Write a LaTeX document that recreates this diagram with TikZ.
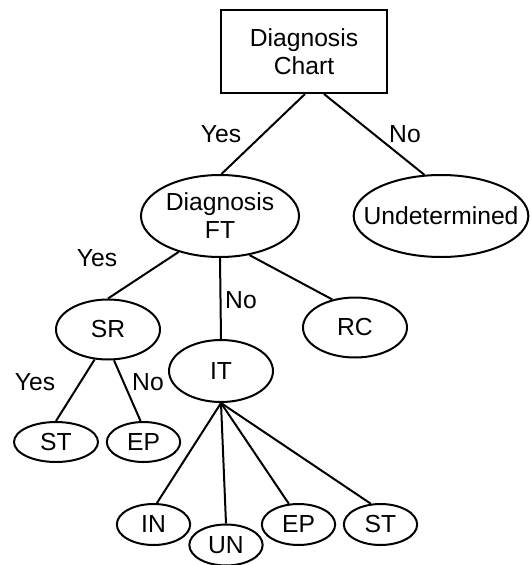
\documentclass[tikz,border=0pt]{standalone}
\usepackage{fontspec}
\setmainfont{Liberation Sans}
\usetikzlibrary{shapes.geometric}
\begin{document}
\begin{tikzpicture}[x=0.75pt,y=-0.75pt,
  every node/.style={font=\fontsize{18.5pt}{21pt}\selectfont},
  ell/.style={draw,ellipse,line width=1.5pt,inner sep=0pt,align=center},
  conn/.style={line width=1.5pt},
  lbl/.style={inner sep=0pt}]
\useasboundingbox (0,0) rectangle (532,565);
\node[draw,line width=1.5pt,minimum width=124.5pt,minimum height=62.25pt,align=center,inner sep=0pt] (chart) at (304,51.5) {Diagnosis\\Chart};
\node[ell,minimum width=118.5pt,minimum height=61.5pt] (ft) at (220,216) {Diagnosis\\FT};
\node[ell,minimum width=131pt,minimum height=61.5pt,inner xsep=-12pt] (und) at (441,216) {Undetermined};
\node[ell,minimum width=78pt,minimum height=45pt] (sr) at (108,329.5) {SR};
\node[ell,minimum width=78pt,minimum height=46.5pt] (it) at (221,371) {IT};
\node[ell,minimum width=78pt,minimum height=45pt] (rc) at (355,327.5) {RC};
\node[ell,minimum width=63pt,minimum height=30pt] (st1) at (56,442) {ST};
\node[ell,minimum width=55pt,minimum height=30pt] (ep1) at (143.5,442) {EP};
\node[ell,minimum width=55pt,minimum height=30.75pt] (in) at (153.5,524.5) {IN};
\node[ell,minimum width=55pt,minimum height=30.75pt] (un) at (226,545) {UN};
\node[ell,minimum width=55pt,minimum height=30.75pt] (ep2) at (298.5,524.5) {EP};
\node[ell,minimum width=55pt,minimum height=30.75pt] (st2) at (380.5,524.5) {ST};
\draw[conn] ([xshift=0.75pt]chart.south) -- (ft.88);
\draw[conn] ([xshift=15pt]chart.south) -- (und.112);
\draw[conn] (ft.221) -- (sr.north);
\draw[conn] (ft.south) -- (it.north);
\draw[conn] (ft.-53) -- (rc.129);
\draw[conn] (sr.246) -- (st1.north);
\draw[conn] (sr.281) -- (ep1.98);
\draw[conn] (it.south) -- (in.81);
\draw[conn] (it.south) -- (un.north);
\draw[conn] (it.south) -- (ep2.115);
\draw[conn] (it.south) -- (st2.115);
\node[lbl] (l1) at (221,134) {Yes};
\node[lbl] (l2) at (405,134) {No};
\node[lbl] (l3) at (97,258) {Yes};
\node[lbl] (l4) at (241,300) {No};
\node[lbl] (l5) at (35,382) {Yes};
\node[lbl] (l6) at (148,382) {No};
\end{tikzpicture}
\end{document}
